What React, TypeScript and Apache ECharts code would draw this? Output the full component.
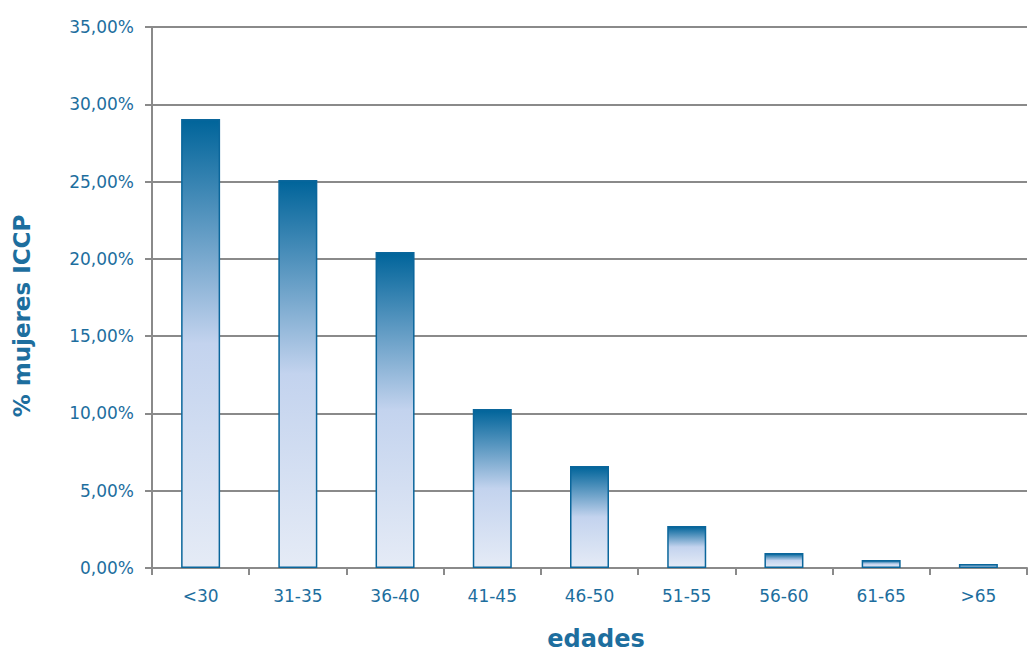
import React, { useEffect, useRef } from "react";
import * as echarts from "echarts";

const categories = ["<30", "31-35", "36-40", "41-45", "46-50", "51-55", "56-60", "61-65", ">65"];
const values = [29.05, 25.1, 20.45, 10.28, 6.6, 2.72, 0.97, 0.52, 0.26];
const yTicks = [0, 5, 10, 15, 20, 25, 30, 35];
const xTitle = "edades";
const yTitle = "% mujeres ICCP";

const TEXT = "#1d6e9e";
const FONT = "'DejaVu Sans', 'Noto Sans', sans-serif";

export default function App() {
  const ref = useRef<HTMLDivElement>(null);
  useEffect(() => {
    const chart = echarts.init(ref.current!, null, { renderer: "svg" });
    chart.setOption({
      animation: false,
      grid: { left: 152, right: 1, top: 27, bottom: 85 },
      graphic: [
        {
          type: "text",
          x: 22,
          y: 316,
          rotation: Math.PI / 2,
          style: {
            text: yTitle,
            fill: TEXT,
            fontSize: 23,
            fontWeight: "bold",
            fontFamily: FONT,
            align: "center",
            verticalAlign: "middle",
          },
        },
        {
          type: "text",
          x: 596,
          y: 639,
          style: {
            text: xTitle,
            fill: TEXT,
            fontSize: 24,
            fontWeight: "bold",
            fontFamily: FONT,
            align: "center",
            verticalAlign: "middle",
          },
        },
      ],
      xAxis: {
        type: "category",
        data: categories,
        boundaryGap: true,
        axisLine: { lineStyle: { color: "#8a8a8a", width: 2 } },
        axisTick: { show: true, length: 7, lineStyle: { color: "#8a8a8a", width: 2 } },
        axisLabel: { color: TEXT, fontSize: 17, fontFamily: FONT, margin: 19 },
      },
      yAxis: {
        type: "value",
        min: 0,
        max: 35,
        interval: 5,
        axisLine: { show: true, lineStyle: { color: "#8a8a8a", width: 2 } },
        axisTick: { show: true, length: 7, lineStyle: { color: "#8a8a8a", width: 2 } },
        splitLine: { lineStyle: { color: "#8a8a8a", width: 2 } },
        axisLabel: {
          color: TEXT,
          fontSize: 17,
          fontFamily: FONT,
          margin: 18,
          formatter: (v: number) => (yTicks.includes(v) ? v.toFixed(2).replace(".", ",") + "%" : ""),
        },
      },
      series: [
        {
          type: "bar",
          data: values,
          barWidth: 39,
          itemStyle: {
            borderColor: "#0b669b",
            borderWidth: 1.5,
            color: new echarts.graphic.LinearGradient(0, 0, 0, 1, [
              { offset: 0, color: "#00649a" },
              { offset: 0.5, color: "#c3d3ee" },
              { offset: 1, color: "#e5ebf6" },
            ]),
          },
        },
      ],
    });
    return () => chart.dispose();
  }, []);
  return (
    <div
      ref={ref}
      style={{ position: "absolute", left: 0, top: 0, width: 1028, height: 653, background: "#fff" }}
    />
  );
}
